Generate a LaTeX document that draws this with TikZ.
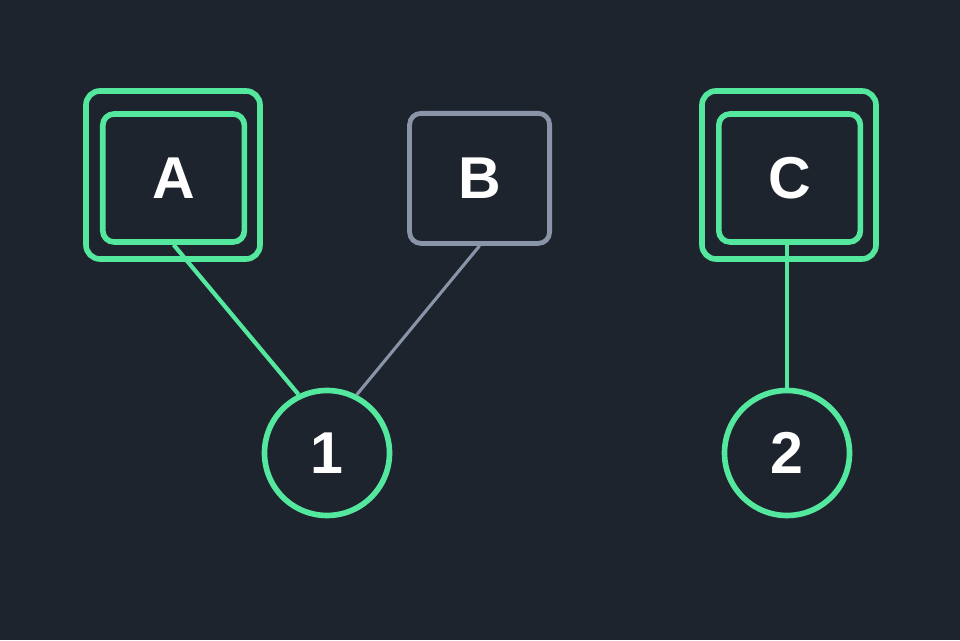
\documentclass[tikz,border=0pt]{standalone}
\usepackage{fontspec}
\setmainfont{Liberation Sans}
\definecolor{bgdark}{RGB}{30,36,46}
\definecolor{mint}{RGB}{84,232,158}
\definecolor{slate}{RGB}{138,148,168}
\tikzset{
	innerbox/.style={draw=mint, line width=4pt, rounded corners=8pt, minimum width=3.54cm, minimum height=3.2cm, text=white, font=\fontsize{42}{50}\selectfont\bfseries},
	outerbox/.style={draw=mint, line width=4pt, rounded corners=10pt, minimum width=4.35cm, minimum height=4.2cm},
	plainbox/.style={draw=slate, line width=3.4pt, rounded corners=8pt, minimum width=3.5cm, minimum height=3.25cm, text=white, font=\fontsize{42}{50}\selectfont\bfseries},
	numcirc/.style={draw=mint, line width=4pt, circle, minimum size=3.125cm, text=white, font=\fontsize{42}{50}\selectfont\bfseries},
	linkon/.style={draw=mint, line width=3pt},
	linkoff/.style={draw=slate, line width=2.2pt}
}

\begin{document}
\begin{tikzpicture}
		%%%%% START %%%%%
		
		\fill[bgdark] (0, 0) rectangle (24, 16);
		
		\node[outerbox] (aframe) at (4.325, 11.625) {};
		\node[innerbox] (a) at (4.34, 11.55) {A};
		
		\node[plainbox] (b) at (11.99, 11.54) {B};
		
		\node[outerbox] (cframe) at (19.725, 11.625) {};
		\node[innerbox] (c) at (19.74, 11.55) {C};
		
		\node[numcirc] (one) at (8.175, 4.675) {1};
		\node[numcirc] (two) at (19.675, 4.675) {2};
		
		\draw[linkon] (a.south) -- (one.116);
		\draw[linkoff] (b.south) -- (one.63);
		\draw[linkon] (c.south -| two.north) -- (two.north);
		
		%%%%% END %%%%%
	\end{tikzpicture}
\end{document}
